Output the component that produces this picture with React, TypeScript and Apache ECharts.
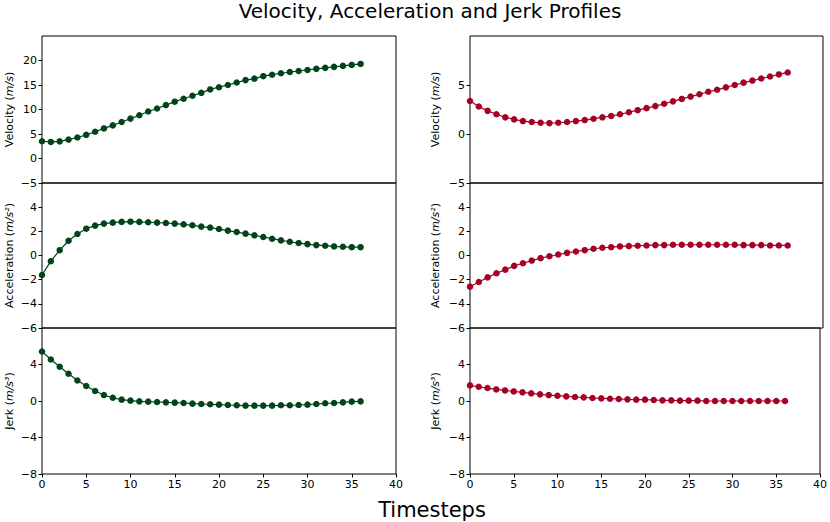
import React, { useEffect, useRef } from "react";
import * as echarts from "echarts";

const timesteps = Array.from({ length: 37 }, (_, i) => i);

const velocityA = [3.52, 3.38, 3.5, 3.86, 4.28, 4.83, 5.45, 6.14, 6.76, 7.45, 8.14, 8.83, 9.59, 10.2, 10.9, 11.6, 12.2, 12.8, 13.4, 14.1, 14.55, 15.0, 15.5, 16.0, 16.3, 16.8, 17.1, 17.4, 17.65, 17.86, 18.07, 18.3, 18.5, 18.7, 18.9, 19.1, 19.3];
const accelA = [-1.61, -0.47, 0.44, 1.22, 1.78, 2.22, 2.47, 2.64, 2.72, 2.78, 2.8, 2.78, 2.75, 2.72, 2.69, 2.64, 2.58, 2.5, 2.39, 2.31, 2.19, 2.06, 1.94, 1.81, 1.67, 1.53, 1.39, 1.25, 1.14, 1.03, 0.94, 0.86, 0.81, 0.75, 0.72, 0.69, 0.69];
const jerkA = [5.42, 4.55, 3.75, 2.98, 2.25, 1.64, 1.09, 0.65, 0.36, 0.15, 0.04, -0.04, -0.07, -0.11, -0.15, -0.18, -0.22, -0.29, -0.33, -0.36, -0.4, -0.44, -0.47, -0.51, -0.51, -0.51, -0.51, -0.47, -0.47, -0.44, -0.4, -0.33, -0.25, -0.22, -0.15, -0.07, -0.04];

const velocityB = [3.37, 2.81, 2.36, 2.01, 1.7, 1.49, 1.32, 1.22, 1.15, 1.11, 1.15, 1.22, 1.32, 1.42, 1.56, 1.7, 1.84, 2.01, 2.22, 2.43, 2.64, 2.85, 3.09, 3.33, 3.58, 3.82, 4.06, 4.31, 4.51, 4.76, 5.0, 5.24, 5.45, 5.66, 5.87, 6.08, 6.28];
const accelB = [-2.58, -2.19, -1.81, -1.47, -1.17, -0.86, -0.64, -0.42, -0.22, -0.06, 0.08, 0.22, 0.33, 0.44, 0.56, 0.64, 0.69, 0.75, 0.78, 0.81, 0.83, 0.86, 0.86, 0.89, 0.89, 0.89, 0.89, 0.89, 0.89, 0.89, 0.89, 0.86, 0.86, 0.86, 0.83, 0.83, 0.83];
const jerkB = [1.71, 1.56, 1.42, 1.27, 1.16, 1.05, 0.95, 0.84, 0.73, 0.65, 0.58, 0.51, 0.44, 0.4, 0.33, 0.29, 0.25, 0.22, 0.18, 0.15, 0.15, 0.11, 0.07, 0.07, 0.04, 0.04, 0.04, 0.0, 0.0, 0.0, 0.0, 0.0, 0.0, 0.0, 0.0, 0.0, 0.0];

const title = "Velocity, Acceleration and Jerk Profiles";
const xLabel = "Timesteps";
const xTicks = { min: 0, max: 40, interval: 5 };

// per panel: [min, max, interval]
const yRangesA = [[-5, 25, 5], [-6, 6, 2], [-8, 8, 4]];
const yRangesB = [[-5, 10, 5], [-6, 6, 2], [-8, 8, 4]];
const yNames = [
  "Velocity ({i|m/s})",
  "Acceleration ({i|m/s²})",
  "Jerk ({i|m/s³})",
];

const colorA = "#00441b";
const colorB = "#a50026";

const FONT = "DejaVu Sans";

export default function App() {
  const ref = useRef<HTMLDivElement>(null);
  useEffect(() => {
    if (!ref.current) return;
    const chart = echarts.init(ref.current, undefined, { renderer: "svg" });

    const rows = [
      { top: 36, height: 147 },
      { top: 183, height: 145 },
      { top: 328, height: 146 },
    ];
    const cols = [
      { left: 42, width: 354 },
      { left: 470, width: 353 },
    ];
    const grids: any[] = [];
    const xAxes: any[] = [];
    const yAxes: any[] = [];
    const series: any[] = [];
    const dataCols = [
      [velocityA, accelA, jerkA],
      [velocityB, accelB, jerkB],
    ];
    const ranges = [yRangesA, yRangesB];
    const colors = [colorA, colorB];
    const fmt = (v: number) => (v < 0 ? "\u2212" + Math.abs(v) : String(v));

    cols.forEach((c, ci) => {
      rows.forEach((r, ri) => {
        const idx = grids.length;
        grids.push({
          left: c.left,
          width: c.width,
          top: r.top,
          height: r.height,
          show: true,
          borderColor: "#000",
          borderWidth: 1,
          backgroundColor: "transparent",
          containLabel: false,
        });
        const isBottom = ri === 2;
        xAxes.push({
          type: "value",
          gridIndex: idx,
          min: xTicks.min,
          max: xTicks.max,
          interval: xTicks.interval,
          splitLine: { show: false },
          axisLine: { show: false, onZero: false },
          axisTick: { show: isBottom, length: 3.5, lineStyle: { color: "#000" } },
          axisLabel: {
            show: isBottom,
            color: "#000",
            fontFamily: FONT,
            fontSize: 11,
            margin: 5,
            formatter: fmt,
          },
        });
        const [mn, mx, iv] = ranges[ci][ri];
        yAxes.push({
          type: "value",
          gridIndex: idx,
          min: mn,
          max: mx,
          interval: iv,
          splitLine: { show: false },
          axisLine: { show: false, onZero: false },
          axisTick: { show: true, length: 3.5, lineStyle: { color: "#000" } },
          axisLabel: {
            color: "#000",
            fontFamily: FONT,
            fontSize: 11,
            margin: 5,
            showMaxLabel: false,
            formatter: fmt,
          },
          name: yNames[ri],
          nameLocation: "middle",
          nameGap: ci === 0 ? 27 : 29,
          nameTextStyle: {
            color: "#000",
            fontFamily: FONT,
            fontSize: 11,
            rich: {
              i: { fontStyle: "italic", fontFamily: FONT, fontSize: 11, color: "#000" },
            },
          },
        });
        series.push({
          type: "line",
          xAxisIndex: idx,
          yAxisIndex: idx,
          data: timesteps.map((t, k) => [t, dataCols[ci][ri][k]]),
          symbol: "circle",
          symbolSize: 6.5,
          showSymbol: true,
          lineStyle: { color: colors[ci], width: 1.2 },
          itemStyle: { color: colors[ci] },
        });
      });
    });

    chart.setOption({
      animation: false,
      backgroundColor: "#fff",
      grid: grids,
      xAxis: xAxes,
      yAxis: yAxes,
      series,
      graphic: [
        {
          type: "text",
          x: 430,
          y: 11,
          style: {
            text: title,
            fontFamily: FONT,
            fontSize: 20,
            fill: "#000",
            align: "center",
            verticalAlign: "middle",
          },
        },
        {
          type: "text",
          x: 432,
          y: 510,
          style: {
            text: xLabel,
            fontFamily: FONT,
            fontSize: 21,
            fill: "#000",
            align: "center",
            verticalAlign: "middle",
          },
        },
      ],
    });
    return () => chart.dispose();
  }, []);
  return (
    <div
      ref={ref}
      style={{ width: 830, height: 522, position: "fixed", left: 0, top: 0 }}
    />
  );
}
